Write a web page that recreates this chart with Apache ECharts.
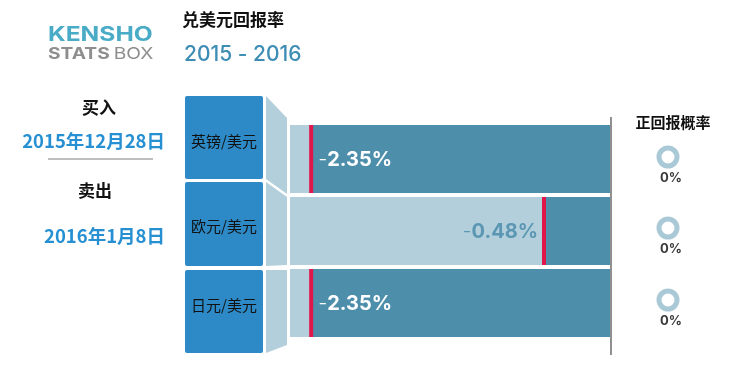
<!DOCTYPE html>
<html>
<head>
<meta charset="utf-8">
<script src="https://cdn.jsdelivr.net/npm/echarts@6/dist/echarts.min.js"></script>
<style>html,body{margin:0;padding:0;background:#fff;}#c{width:730px;height:374px;}</style>
</head>
<body>
<div id="c"></div>
<script>
// ---- data ----
const categories = ['英镑/美元', '欧元/美元', '日元/美元'];
const returns = [-2.35, -0.48, -2.35];
const positiveProb = [0, 0, 0];
const titleText = '兑美元回报率';
const periodText = '2015 - 2016';
const buyLabel = '买入';
const buyDate = '2015年12月28日';
const sellLabel = '卖出';
const sellDate = '2016年1月8日';
const probTitle = '正回报概率';
const xMin = -2.52, xMax = 0.05;

// ---- styles ----
const C_BOX = '#2d8ac7', C_LIGHT = '#b3cfdc', C_DARK = '#4d8fab', C_RED = '#e0164a';
const F = 'Inter, "Noto Sans CJK SC", sans-serif';
const FC = '"Noto Sans CJK SC", sans-serif';

const chart = echarts.init(document.getElementById('c'));

const boxRows = [[96, 179], [182, 266], [270, 353]];
const boxTextY = [141, 226, 305];
const connectors = [
  [[266, 96], [287, 118], [287, 194], [266, 179]],
  [[266, 182], [287, 197], [287, 265], [266, 266]],
  [[266, 270], [287, 270], [287, 345], [266, 353]]
];
const ringY = [157, 228, 300];

const graphics = [
  {type: 'text', x: 48, y: 35, style: {text: 'KENSHO', font: 'bold 19.5px ' + F, fill: '#4aabc6', verticalAlign: 'middle'}, scaleX: 1.26, originX: 0, originY: 0},
  {type: 'text', x: 48, y: 54, style: {text: '{a|STATS} {b|BOX}', verticalAlign: 'middle', rich: {
      a: {font: 'bold 16px ' + F, fill: '#8e8e8e'}, b: {font: '16px ' + F, fill: '#8e8e8e'}}}, scaleX: 1.2, originX: 0, originY: 0},
  {type: 'text', x: 182, y: 20, style: {text: titleText, font: 'bold 17px ' + FC, fill: '#111', verticalAlign: 'middle'}},
  {type: 'text', x: 184, y: 55, style: {text: periodText, font: '500 21px ' + F, fill: '#3d8db5', verticalAlign: 'middle'}},
  {type: 'text', x: 99, y: 108, style: {text: buyLabel, font: 'bold 17px ' + FC, fill: '#111', align: 'center', verticalAlign: 'middle'}},
  {type: 'text', x: 165, y: 141, style: {text: buyDate, font: 'bold 18.5px ' + FC, fill: '#2690d2', align: 'right', verticalAlign: 'middle'}},
  {type: 'line', shape: {x1: 48, y1: 159, x2: 153, y2: 159}, style: {stroke: '#a8a8a8', lineWidth: 1.5}},
  {type: 'text', x: 95, y: 191, style: {text: sellLabel, font: 'bold 17px ' + FC, fill: '#111', align: 'center', verticalAlign: 'middle'}},
  {type: 'text', x: 165, y: 236, style: {text: sellDate, font: 'bold 18.5px ' + FC, fill: '#2690d2', align: 'right', verticalAlign: 'middle'}},
  {type: 'text', x: 673, y: 122, style: {text: probTitle, font: 'bold 15px ' + FC, fill: '#111', align: 'center', verticalAlign: 'middle'}},
  {type: 'line', shape: {x1: 611, y1: 117, x2: 611, y2: 355}, style: {stroke: '#6b6b6b', lineWidth: 1.5}, z: 10}
];
categories.forEach((c, i) => {
  graphics.push({type: 'rect', shape: {x: 185, y: boxRows[i][0], width: 78, height: boxRows[i][1] - boxRows[i][0], r: 2}, style: {fill: C_BOX}});
  graphics.push({type: 'text', x: 224, y: boxTextY[i], style: {text: c, font: '15px ' + FC, fill: '#111', align: 'center', verticalAlign: 'middle'}});
  graphics.push({type: 'polygon', shape: {points: connectors[i]}, style: {fill: C_LIGHT}});
  graphics.push({type: 'text', x: 671, y: ringY[i] + 21, style: {text: positiveProb[i] + '%', font: 'bold 13px ' + F, fill: '#3a3a3a', align: 'center', verticalAlign: 'middle'}});
});

const pies = positiveProb.map((p, i) => ({
  type: 'pie', center: [668, ringY[i]], radius: [6.5, 11.5], silent: true,
  label: {show: false}, labelLine: {show: false}, emphasis: {disabled: true},
  data: [{value: p, itemStyle: {color: C_DARK}}, {value: 100 - p, itemStyle: {color: '#a9c9d6'}}]
}));

chart.setOption({
  animation: false,
  grid: {left: 290, right: 120, top: 123, bottom: 35},
  xAxis: {type: 'value', min: xMin, max: xMax, show: false},
  yAxis: {type: 'category', data: categories, inverse: true, show: false},
  graphic: graphics,
  series: [{
    type: 'custom',
    data: returns.map((v, i) => [i, v]),
    encode: {x: 1, y: 0},
    renderItem: function (params, api) {
      const yi = api.value(0), v = api.value(1);
      const pMin = api.coord([xMin, yi]), p = api.coord([v, yi]), pMax = api.coord([xMax, yi]);
      const band = api.size([0, 1])[1];
      const h = band - 4, top = pMin[1] - h / 2;
      const leftSide = (p[0] - pMin[0]) > (pMax[0] - pMin[0]) / 2;
      const txt = '{m|' + (v < 0 ? '-' : '') + '}{n|' + Math.abs(v).toFixed(2) + '%}';
      const col = leftSide ? '#5b97b3' : '#ffffff';
      return {type: 'group', children: [
        {type: 'rect', shape: {x: pMin[0], y: top, width: pMax[0] - pMin[0], height: h}, style: {fill: C_LIGHT}},
        {type: 'rect', shape: {x: p[0], y: top, width: pMax[0] - p[0], height: h}, style: {fill: C_DARK}},
        {type: 'rect', shape: {x: p[0] - 2, y: top, width: 4, height: h}, style: {fill: C_RED}},
        {type: 'text', x: leftSide ? p[0] - 6 : p[0] + 7, y: pMin[1] + 1, style: {
          text: txt, align: leftSide ? 'right' : 'left', verticalAlign: 'middle',
          rich: {m: {font: '300 20px ' + F, fill: col}, n: {font: 'bold 20px ' + F, fill: col}}}}
      ]};
    }
  }].concat(pies)
});
</script>
</body>
</html>
